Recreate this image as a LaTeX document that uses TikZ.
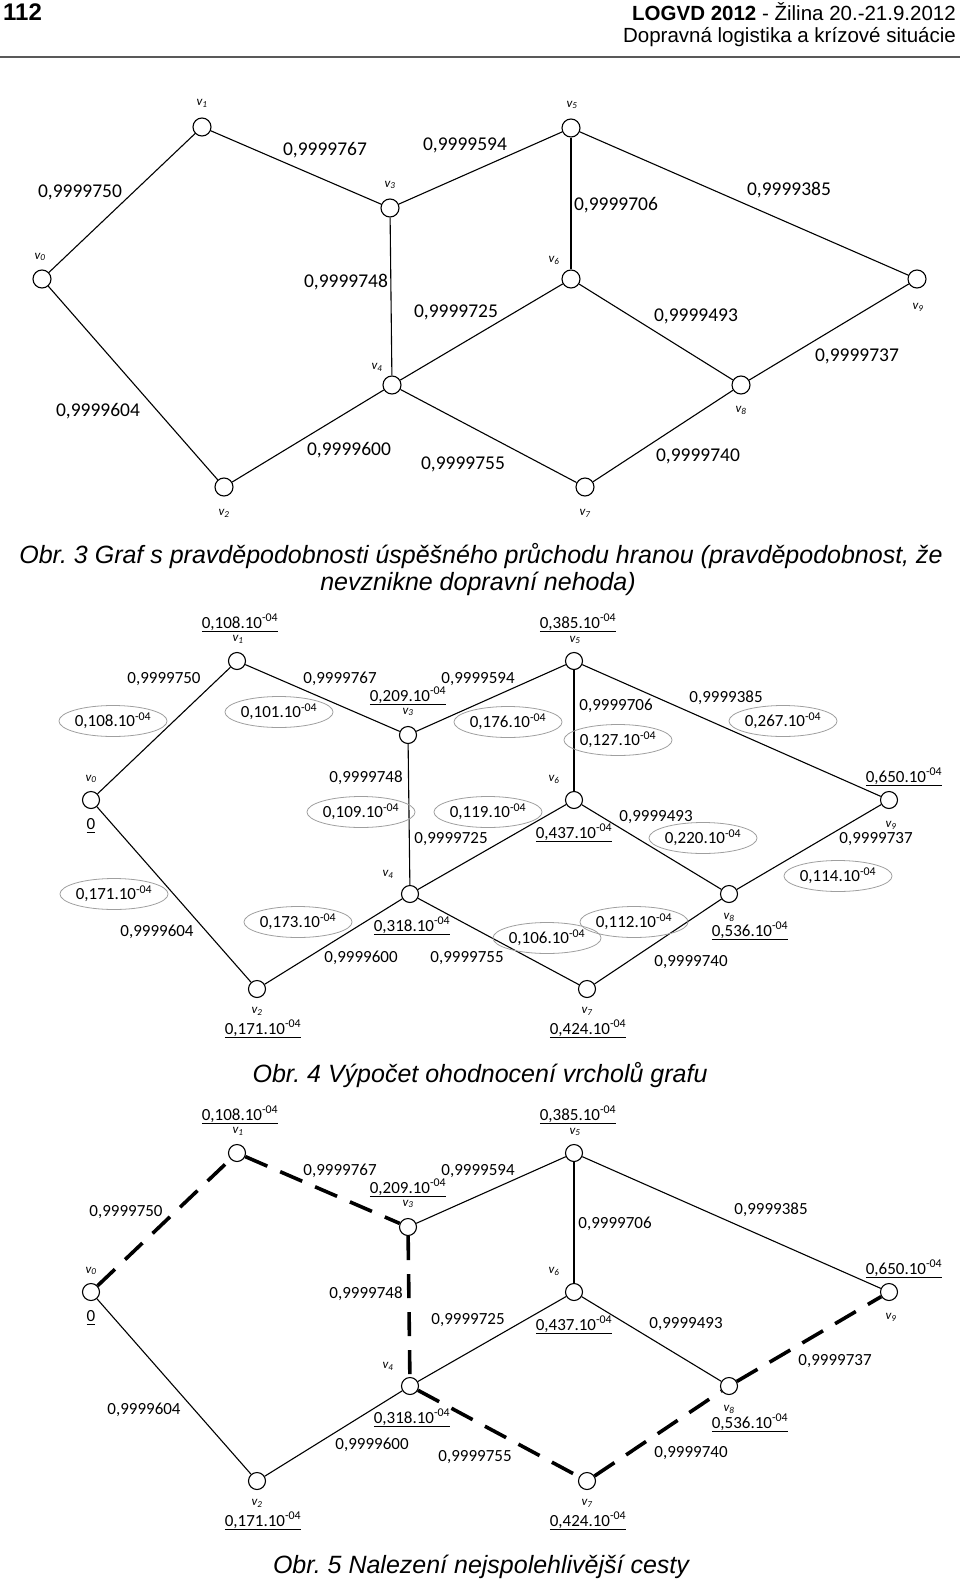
\documentclass[tikz,border=0pt]{standalone}
\usepackage{fontspec}
\setmainfont{Carlito}
\newfontfamily\arialfont{Liberation Sans}
\usetikzlibrary{shapes.geometric}
\newcommand{\uval}[1]{\setbox0=\hbox{#1}\leavevmode\rlap{\vrule height -2.6pt depth 4.1pt width \wd0}\box0}
\newcommand{\ex}{\textsuperscript{-04}}
\frenchspacing

\begin{document}
\begin{tikzpicture}[x=1pt,y=-1pt,line cap=butt,
  vtx/.style={circle,draw,line width=1.1pt,fill=white,minimum size=17pt,inner sep=0pt},
  vtxa/.style={vtx,minimum size=18pt},
  vname/.style={font=\fontsize{13}{15}\selectfont\itshape,inner sep=0pt},
  wa/.style={font=\fontsize{19.5}{22}\selectfont,inner sep=0pt},
  wb/.style={font=\fontsize{17}{20}\selectfont,inner sep=0pt},
  val/.style={font=\fontsize{17}{20}\selectfont,inner sep=0pt,anchor=base},
  ell/.style={ellipse,draw=gray!75,line width=0.8pt,minimum width=90pt,minimum height=31pt,inner sep=0pt,font=\fontsize{17}{20}\selectfont},
  edge/.style={line width=1.1pt},
  best/.style={line width=3.6pt,dash pattern=on 24pt off 14pt},
  capt/.style={font=\arialfont\itshape\fontsize{25}{28}\selectfont,anchor=base,inner sep=0pt}]
\useasboundingbox (0,0) rectangle (960,1581);
\node[anchor=base west,inner sep=0pt,font=\arialfont\bfseries\fontsize{24}{28}\selectfont] (pg) at (3,21) {112};
\node[anchor=base east,inner sep=0pt,font=\arialfont\fontsize{20.5}{24}\selectfont] (hd) at (956,21) {\textbf{LOGVD 2012} - Žilina 20.-21.9.2012};
\node[anchor=base east,inner sep=0pt,font=\arialfont\fontsize{20.5}{24}\selectfont] (sub) at (956,43) {Dopravná logistika a krízové situácie};
\draw[gray!70!black,line width=2pt] (0,57) -- (960,57);

\node[vtxa] (a0) at (42,279) {};
\node[vtxa] (a1) at (202,127) {};
\node[vtxa] (a2) at (224,487) {};
\node[vtxa] (a3) at (390,208) {};
\node[vtxa] (a4) at (392,385) {};
\node[vtxa] (a5) at (571,128) {};
\node[vtxa] (a6) at (571,279) {};
\node[vtxa] (a7) at (585,487) {};
\node[vtxa] (a8) at (741,385) {};
\node[vtxa] (a9) at (917,279) {};
\draw[edge] (a0) -- (a1);
\draw[edge] (a1) -- (a3);
\draw[edge] (a3) -- (a5);
\draw[edge] (a5) -- (a6);
\draw[edge] (a5) -- (a9);
\draw[edge] (a3) -- (a4);
\draw[edge] (a4) -- (a6);
\draw[edge] (a6) -- (a8);
\draw[edge] (a8) -- (a9);
\draw[edge] (a0) -- (a2);
\draw[edge] (a2) -- (a4);
\draw[edge] (a4) -- (a7);
\draw[edge] (a7) -- (a8);
\node[vname] (na0) at (40,257) {v\textsubscript{0}};
\node[vname] (na1) at (202,103) {v\textsubscript{1}};
\node[vname] (na2) at (224,513) {v\textsubscript{2}};
\node[vname] (na3) at (390,185) {v\textsubscript{3}};
\node[vname] (na4) at (377,367) {v\textsubscript{4}};
\node[vname] (na5) at (572,105) {v\textsubscript{5}};
\node[vname] (na6) at (554,260) {v\textsubscript{6}};
\node[vname] (na7) at (585,513) {v\textsubscript{7}};
\node[vname] (na8) at (741,410) {v\textsubscript{8}};
\node[vname] (na9) at (918,307) {v\textsubscript{9}};
\node[wa] (p01) at (80,192) {0,9999750};
\node[wa] (p13) at (325,150) {0,9999767};
\node[wa] (p35) at (465,145) {0,9999594};
\node[wa] (p56) at (616,205) {0,9999706};
\node[wa] (p59) at (789,190) {0,9999385};
\node[wa] (p34) at (346,282) {0,9999748};
\node[wa] (p46) at (456,312) {0,9999725};
\node[wa] (p68) at (696,316) {0,9999493};
\node[wa] (p89) at (857,356) {0,9999737};
\node[wa] (p02) at (98,411) {0,9999604};
\node[wa] (p24) at (349,450) {0,9999600};
\node[wa] (p47) at (463,464) {0,9999755};
\node[wa] (p78) at (698,456) {0,9999740};
\node[capt] (t3a) at (481,563) {Obr. 3 Graf s pravděpodobnosti úspěšného průchodu hranou (pravděpodobnost, že};
\node[capt] (t3b) at (478,590) {nevznikne dopravní nehoda)};

\node[vtx] (b0) at (91,800) {};
\node[vtx] (b1) at (237,661) {};
\node[vtx] (b2) at (257,989) {};
\node[vtx] (b3) at (408,735) {};
\node[vtx] (b4) at (410,894) {};
\node[vtx] (b5) at (574,661) {};
\node[vtx] (b6) at (574,800) {};
\node[vtx] (b7) at (587,989) {};
\node[vtx] (b8) at (729,894) {};
\node[vtx] (b9) at (889,800) {};
\draw[edge] (b0) -- (b1);
\draw[edge] (b1) -- (b3);
\draw[edge] (b3) -- (b5);
\draw[edge] (b5) -- (b6);
\draw[edge] (b5) -- (b9);
\draw[edge] (b3) -- (b4);
\draw[edge] (b4) -- (b6);
\draw[edge] (b6) -- (b8);
\draw[edge] (b8) -- (b9);
\draw[edge] (b0) -- (b2);
\draw[edge] (b2) -- (b4);
\draw[edge] (b4) -- (b7);
\draw[edge] (b7) -- (b8);
\node[vname] (nb0) at (91,779) {v\textsubscript{0}};
\node[vname] (nb1) at (238,639) {v\textsubscript{1}};
\node[vname] (nb2) at (257,1011) {v\textsubscript{2}};
\node[vname] (nb3) at (408,712) {v\textsubscript{3}};
\node[vname] (nb4) at (388,874) {v\textsubscript{4}};
\node[vname] (nb5) at (575,640) {v\textsubscript{5}};
\node[vname] (nb6) at (554,779) {v\textsubscript{6}};
\node[vname] (nb7) at (587,1011) {v\textsubscript{7}};
\node[vname] (nb8) at (729,917) {v\textsubscript{8}};
\node[vname] (nb9) at (891,825) {v\textsubscript{9}};
\node[val] (vb0) at (91,829) {\uval{0}};
\node[val] (vb1) at (240,628) {\uval{0,108.10\ex}};
\node[val] (vb2) at (263,1034) {\uval{0,171.10\ex}};
\node[val] (vb3) at (408,701) {\uval{0,209.10\ex}};
\node[val] (vb4) at (412,931) {\uval{0,318.10\ex}};
\node[val] (vb5) at (578,628) {\uval{0,385.10\ex}};
\node[val] (vb6) at (574,838) {\uval{0,437.10\ex}};
\node[val] (vb7) at (588,1034) {\uval{0,424.10\ex}};
\node[val] (vb8) at (750,936) {\uval{0,536.10\ex}};
\node[val] (vb9) at (904,782) {\uval{0,650.10\ex}};
\node[wb] (q01) at (164,679) {0,9999750};
\node[wb] (q13) at (340,679) {0,9999767};
\node[wb] (q35) at (478,679) {0,9999594};
\node[wb] (q56) at (616,706) {0,9999706};
\node[wb] (q59) at (726,698) {0,9999385};
\node[wb] (q34) at (366,778) {0,9999748};
\node[wb] (q46) at (451,839) {0,9999725};
\node[wb] (q68) at (656,817) {0,9999493};
\node[wb] (q89) at (876,839) {0,9999737};
\node[wb] (q02) at (157,932) {0,9999604};
\node[wb] (q24) at (361,958) {0,9999600};
\node[wb] (q47) at (467,958) {0,9999755};
\node[wb] (q78) at (691,962) {0,9999740};
\node[ell] (e01) at (113,721) {0,108.10\ex};
\node[ell] (e13) at (279,712) {0,101.10\ex};
\node[ell] (e35) at (508,722) {0,176.10\ex};
\node[ell] (e56) at (618,740) {0,127.10\ex};
\node[ell] (e59) at (783,721) {0,267.10\ex};
\node[ell] (e34) at (361,812) {0,109.10\ex};
\node[ell] (e46) at (488,812) {0,119.10\ex};
\node[ell] (e68) at (703,838) {0,220.10\ex};
\node[ell] (e89) at (838,876) {0,114.10\ex};
\node[ell] (e02) at (114,894) {0,171.10\ex};
\node[ell] (e24) at (298,922) {0,173.10\ex};
\node[ell] (e47) at (547,938) {0,106.10\ex};
\node[ell] (e78) at (634,922) {0,112.10\ex};
\node[capt] (t4) at (480,1082) {Obr. 4 Výpočet ohodnocení vrcholů grafu};

\node[vtx] (c0) at (91,1292) {};
\node[vtx] (c1) at (237,1153) {};
\node[vtx] (c2) at (257,1481) {};
\node[vtx] (c3) at (408,1227) {};
\node[vtx] (c4) at (410,1386) {};
\node[vtx] (c5) at (574,1153) {};
\node[vtx] (c6) at (574,1292) {};
\node[vtx] (c7) at (587,1481) {};
\node[vtx] (c8) at (729,1386) {};
\node[vtx] (c9) at (889,1292) {};
\draw[best] (c0) -- (c1);
\draw[best] (c1) -- (c3);
\draw[edge] (c3) -- (c5);
\draw[edge] (c5) -- (c6);
\draw[edge] (c5) -- (c9);
\draw[best] (c3) -- (c4);
\draw[edge] (c4) -- (c6);
\draw[edge] (c6) -- (c8);
\draw[best] (c8) -- (c9);
\draw[edge] (c0) -- (c2);
\draw[edge] (c2) -- (c4);
\draw[best] (c4) -- (c7);
\draw[best] (c7) -- (c8);
\node[vname] (nc0) at (91,1271) {v\textsubscript{0}};
\node[vname] (nc1) at (238,1131) {v\textsubscript{1}};
\node[vname] (nc2) at (257,1503) {v\textsubscript{2}};
\node[vname] (nc3) at (408,1204) {v\textsubscript{3}};
\node[vname] (nc4) at (388,1366) {v\textsubscript{4}};
\node[vname] (nc5) at (575,1132) {v\textsubscript{5}};
\node[vname] (nc6) at (554,1271) {v\textsubscript{6}};
\node[vname] (nc7) at (587,1503) {v\textsubscript{7}};
\node[vname] (nc8) at (729,1409) {v\textsubscript{8}};
\node[vname] (nc9) at (891,1317) {v\textsubscript{9}};
\node[val] (vc0) at (91,1321) {\uval{0}};
\node[val] (vc1) at (240,1120) {\uval{0,108.10\ex}};
\node[val] (vc2) at (263,1526) {\uval{0,171.10\ex}};
\node[val] (vc3) at (408,1193) {\uval{0,209.10\ex}};
\node[val] (vc4) at (412,1423) {\uval{0,318.10\ex}};
\node[val] (vc5) at (578,1120) {\uval{0,385.10\ex}};
\node[val] (vc6) at (574,1330) {\uval{0,437.10\ex}};
\node[val] (vc7) at (588,1526) {\uval{0,424.10\ex}};
\node[val] (vc8) at (750,1428) {\uval{0,536.10\ex}};
\node[val] (vc9) at (904,1274) {\uval{0,650.10\ex}};
\node[wb] (r01) at (126,1212) {0,9999750};
\node[wb] (r13) at (340,1171) {0,9999767};
\node[wb] (r35) at (478,1171) {0,9999594};
\node[wb] (r56) at (615,1224) {0,9999706};
\node[wb] (r59) at (771,1210) {0,9999385};
\node[wb] (r34) at (366,1294) {0,9999748};
\node[wb] (r46) at (468,1320) {0,9999725};
\node[wb] (r68) at (686,1324) {0,9999493};
\node[wb] (r89) at (835,1361) {0,9999737};
\node[wb] (r02) at (144,1410) {0,9999604};
\node[wb] (r24) at (372,1445) {0,9999600};
\node[wb] (r47) at (475,1457) {0,9999755};
\node[wb] (r78) at (691,1453) {0,9999740};
\node[capt] (t5) at (481,1573) {Obr. 5 Nalezení nejspolehlivější cesty};
\end{tikzpicture}
\end{document}
